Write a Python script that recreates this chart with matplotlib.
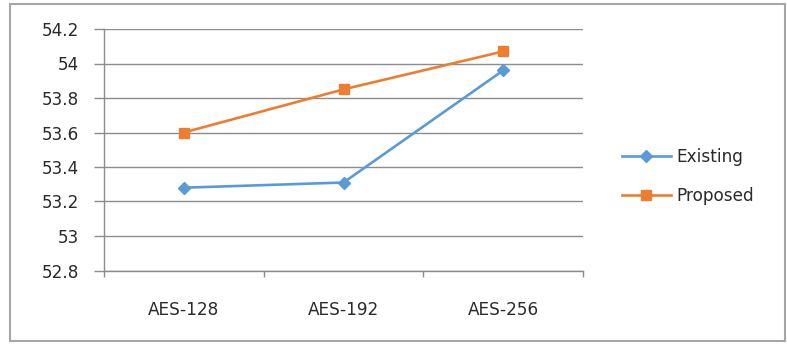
import matplotlib.pyplot as plt
from matplotlib.patches import Rectangle
import numpy as np

categories = ['AES-128', 'AES-192', 'AES-256']
existing = [53.28, 53.31, 53.96]
proposed = [53.60, 53.85, 54.07]
yticks = [52.8, 53.0, 53.2, 53.4, 53.6, 53.8, 54.0, 54.2]
ytick_labels = ['52.8', '53', '53.2', '53.4', '53.6', '53.8', '54', '54.2']

plt.rcParams['font.family'] = ['DejaVu Sans']

fig = plt.figure(figsize=(7.87, 3.45), dpi=100)
ax = fig.add_axes([104 / 787, (345 - 270.5) / 345, 479 / 787, 241.5 / 345])

x = np.arange(len(categories))
ax.plot(x, existing, color='#5B9BD5', lw=1.9, marker='D', ms=6, label='Existing')
ax.plot(x, proposed, color='#ED7D31', lw=1.9, marker='s', ms=7, label='Proposed')

ax.set_xlim(-0.5, 2.5)
ax.set_ylim(52.8, 54.2)
ax.set_yticks(yticks)
ax.set_yticklabels(ytick_labels, fontsize=12.2, color='#2a2a2a')
ax.set_xticks(x)
ax.set_xticklabels(categories, fontsize=12.2, color='#2a2a2a')
# category separators on the x axis
ax.set_xticks([-0.5, 0.5, 1.5, 2.5], minor=True)
ax.tick_params(axis='x', which='major', length=0, pad=22)
ax.tick_params(axis='x', which='minor', length=4.5, color='#8c8c8c', width=1)
ax.tick_params(axis='y', length=7, color='#8c8c8c', width=1, pad=11)
ax.grid(axis='y', color='#8c8c8c', lw=1)
ax.set_axisbelow(True)
for side in ['top', 'right']:
    ax.spines[side].set_visible(False)
for side in ['left', 'bottom']:
    ax.spines[side].set_color('#8c8c8c')
    ax.spines[side].set_linewidth(1)

ax.legend(loc='center left', bbox_to_anchor=(1.081, 0.39), frameon=False,
          fontsize=12.2, handlelength=2.9, labelspacing=1.25, handletextpad=0.3,
          borderpad=0, borderaxespad=0, labelcolor='#2a2a2a')

# outer chart frame
fig.patches.append(Rectangle((10 / 787, 4 / 345), 775 / 787, 337 / 345,
                             transform=fig.transFigure, fill=False,
                             edgecolor='#a6a6a6', lw=1.5))

fig.savefig('out.png', dpi=100)
